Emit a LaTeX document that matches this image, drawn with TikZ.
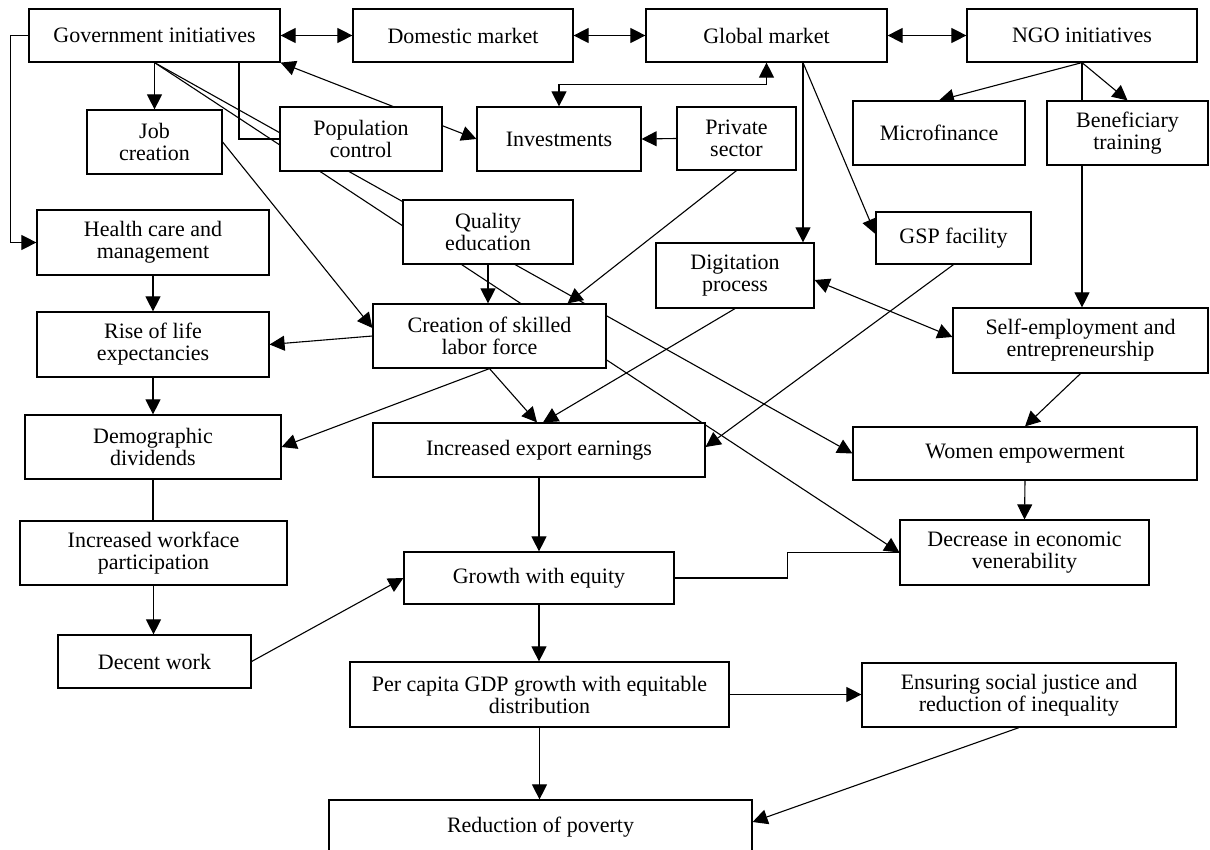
\documentclass[tikz,border=0pt]{standalone}
\usepackage{fontspec}
\setmainfont{Liberation Serif}
\usetikzlibrary{arrows.meta,calc}
\pgfdeclarelayer{bg}
\pgfsetlayers{bg,main}
\begin{document}
\begin{tikzpicture}[x=1pt,y=-1pt,
 bx/.style={draw=black, line width=1.2pt, fill=white, inner sep=0pt, align=center, font=\fontsize{22}{22}\selectfont},
 ln/.style={line width=1.1pt, draw=black},
 arr/.style={ln, -{Triangle[length=15pt,width=15pt]}},
 darr/.style={ln, {Triangle[length=15pt,width=15pt]}-{Triangle[length=15pt,width=15pt]}}]
\useasboundingbox (0,0) rectangle (1210,850);

\node[bx, minimum width=251pt, minimum height=53pt] (gov) at (154.5,35.5) {Government initiatives};
\node[bx, minimum width=220pt, minimum height=53pt] (dom) at (463,35.5) {Domestic market};
\node[bx, minimum width=241pt, minimum height=53pt] (glob) at (766.5,35.5) {Global market};
\node[bx, minimum width=230pt, minimum height=53pt] (ngo) at (1082,35.5) {NGO initiatives};
\node[bx, minimum width=135pt, minimum height=64pt] (job) at (154.5,142) {Job\\creation};
\node[bx, minimum width=162pt, minimum height=64pt] (pop) at (361,139) {Population\\control};
\node[bx, minimum width=164pt, minimum height=64pt] (inv) at (559,139) {Investments};
\node[bx, minimum width=119pt, minimum height=63pt] (priv) at (736.5,138.5) {Private\\sector};
\node[bx, minimum width=172pt, minimum height=64pt] (micro) at (939,133) {Microfinance};
\node[bx, minimum width=161pt, minimum height=64pt] (ben) at (1127.5,133) {Beneficiary\\training};
\node[bx, minimum width=232pt, minimum height=65pt] (health) at (153,242.5) {Health care and\\management};
\node[bx, minimum width=170pt, minimum height=64pt] (qe) at (488,232) {Quality\\education};
\node[bx, minimum width=158pt, minimum height=65pt] (dig) at (735,275.5) {Digitation\\process};
\node[bx, minimum width=155pt, minimum height=52pt] (gsp) at (953.5,238) {GSP facility};
\node[bx, minimum width=232pt, minimum height=65pt] (rise) at (153,344.5) {Rise of life\\expectancies};
\node[bx, minimum width=233pt, minimum height=64pt] (cre) at (489.5,336) {Creation of skilled\\labor force};
\node[bx, minimum width=255pt, minimum height=65pt] (self) at (1080.5,340.5) {Self-employment and\\entrepreneurship};
\node[bx, minimum width=256pt, minimum height=64pt] (demo) at (153,447) {Demographic\\dividends};
\node[bx, minimum width=332pt, minimum height=54pt] (exp) at (539,450) {Increased export earnings};
\node[bx, minimum width=344pt, minimum height=53pt] (women) at (1025,453.5) {Women empowerment};
\node[bx, minimum width=267pt, minimum height=64pt] (work) at (153.5,553) {Increased workface\\participation};
\node[bx, minimum width=270pt, minimum height=52pt] (growth) at (539,578) {Growth with equity};
\node[bx, minimum width=249pt, minimum height=65pt] (decr) at (1024.5,552.5) {Decrease in economic\\venerability};
\node[bx, minimum width=193pt, minimum height=53pt] (decent) at (154.5,661.5) {Decent work};
\node[bx, minimum width=379pt, minimum height=65pt] (per) at (539.5,694.5) {Per capita GDP growth with equitable\\distribution};
\node[bx, minimum width=314pt, minimum height=64pt] (ens) at (1019,695) {Ensuring social justice and\\reduction of inequality};
\node[bx, minimum width=423pt, minimum height=54pt] (red) at (540.5,827) {Reduction of poverty};

\coordinate (g1) at ([xshift=84.5pt]gov.south);
\coordinate (g2) at ([xshift=36.5pt]glob.south);

\begin{pgfonlayer}{bg}
\draw[darr] (gov.east) -- (dom.west);
\draw[darr] (dom.east) -- (glob.west);
\draw[darr] (glob.east) -- (ngo.west);
\draw[arr] (gov.south) -- (job.north);
\draw[arr] (gov.west) -- ++(-18,0) |- (health.west);
\draw[ln] (g1) |- (pop.west);
\draw[darr] (gov.south east) -- (inv.west);
\draw[arr] (gov.south) -- (women.west);
\draw[arr] (gov.south) -- (decr.west);
\draw[darr] (inv.north) -- ++(0,-22) -| (glob.south);
\draw[arr] (priv.west) -- (inv.east);
\draw[arr] (priv.south) -- ([xshift=78pt]cre.north);
\draw[arr] (g2) -- (g2 |- dig.north);
\draw[arr] (g2) -- ([yshift=4pt]gsp.west);
\draw[arr] (ngo.south) -- (micro.north);
\draw[arr] (ngo.south) -- (ben.north);
\draw[arr] (ngo.south) -- (ngo.south |- self.north);
\draw[arr] (job.east) -- ([yshift=8pt]cre.west);
\draw[arr] (cre.west) -- (rise.east);
\draw[arr] (cre.south) -- (demo.east);
\draw[arr] (cre.south) -- ([xshift=-2pt]exp.north);
\draw[arr] (dig.south) -- ([xshift=4pt]exp.north);
\draw[arr] (qe.south) -- (qe.south |- cre.north);
\draw[arr] (health.south) -- (rise.north);
\draw[arr] (rise.south) -- (demo.north);
\draw[ln] (demo.south) -- (demo.south |- work.north);
\draw[arr] (work.south) -- (work.south |- decent.north);
\draw[arr] (decent.east) -- (growth.west);
\draw[arr] (exp.south) -- (growth.north);
\draw[arr] (growth.south) -- (growth.south |- per.north);
\draw[arr] (per.east) -- (per.east -| ens.west);
\draw[arr] (per.south) -- (per.south |- red.north);
\draw[arr] (ens.south) -- ([yshift=5pt]red.east);
\draw[ln] (growth.east) -- ++(113,0) |- (decr.west);
\draw[arr] (self.south) -- (women.north);
\draw[arr] (women.south) -- (decr.north);
\draw[darr] ([yshift=-4.5pt]dig.east) -- ([yshift=3.5pt]self.west);
\draw[arr] (gsp.south) -- ([yshift=3pt]exp.east);
\end{pgfonlayer}
\end{tikzpicture}
\end{document}
